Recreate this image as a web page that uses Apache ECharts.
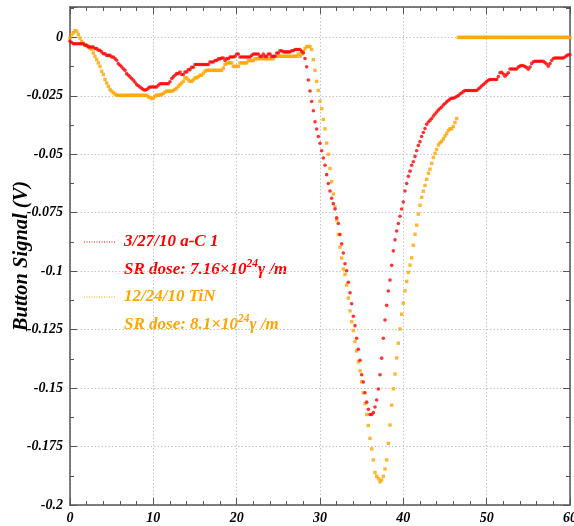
<!DOCTYPE html>
<html>
<head>
<meta charset="utf-8">
<script src="https://cdn.jsdelivr.net/npm/echarts@6/dist/echarts.min.js"></script>
<style>html,body{margin:0;padding:0;background:#fff;}#c{width:574px;height:526px;}</style>
</head>
<body>
<div id="c"></div>
<script>
// Sampling grid of the recordings (x in the chart's units)
const xStart = 0;
const xStep = 0.2;

// 3/27/10 a-C 1 (red)
const redValues = [
-0.0017,-0.0022,-0.0027,-0.0027,-0.0027,-0.0027,-0.0027,-0.0027,-0.0027,-0.0034,
-0.0034,-0.0041,-0.0041,-0.0041,-0.0041,-0.0048,-0.0048,-0.0055,-0.0055,-0.0062,
-0.0070,-0.0070,-0.0077,-0.0077,-0.0077,-0.0084,-0.0084,-0.0091,-0.0098,-0.0112,
-0.0119,-0.0126,-0.0134,-0.0141,-0.0155,-0.0162,-0.0169,-0.0176,-0.0183,-0.0192,
-0.0202,-0.0207,-0.0212,-0.0218,-0.0223,-0.0226,-0.0223,-0.0217,-0.0212,-0.0212,
-0.0212,-0.0212,-0.0212,-0.0205,-0.0198,-0.0198,-0.0198,-0.0198,-0.0198,-0.0198,
-0.0190,-0.0176,-0.0169,-0.0162,-0.0155,-0.0155,-0.0148,-0.0159,-0.0159,-0.0148,
-0.0148,-0.0138,-0.0138,-0.0128,-0.0128,-0.0116,-0.0116,-0.0116,-0.0116,-0.0116,
-0.0116,-0.0116,-0.0116,-0.0116,-0.0105,-0.0105,-0.0105,-0.0099,-0.0099,-0.0092,
-0.0092,-0.0088,-0.0088,-0.0099,-0.0091,-0.0091,-0.0084,-0.0084,-0.0084,-0.0081,
-0.0071,-0.0071,-0.0084,-0.0084,-0.0084,-0.0084,-0.0084,-0.0084,-0.0084,-0.0077,
-0.0071,-0.0071,-0.0071,-0.0071,-0.0081,-0.0081,-0.0071,-0.0081,-0.0081,-0.0071,
-0.0071,-0.0081,-0.0081,-0.0081,-0.0067,-0.0067,-0.0057,-0.0057,-0.0062,-0.0062,
-0.0062,-0.0062,-0.0062,-0.0057,-0.0057,-0.0052,-0.0052,-0.0052,-0.0052,-0.0060,
-0.0067,-0.0090,-0.0126,-0.0182,-0.0229,-0.0274,-0.0314,-0.0361,-0.0392,-0.0424,
-0.0453,-0.0485,-0.0516,-0.0547,-0.0587,-0.0625,-0.0657,-0.0688,-0.0711,-0.0734,
-0.0772,-0.0796,-0.0843,-0.0883,-0.0922,-0.0968,-0.0998,-0.1047,-0.1092,-0.1139,
-0.1193,-0.1233,-0.1287,-0.1334,-0.1381,-0.1443,-0.1474,-0.1520,-0.1560,-0.1591,
-0.1613,-0.1613,-0.1605,-0.1581,-0.1551,-0.1504,-0.1443,-0.1372,-0.1287,-0.1209,
-0.1146,-0.1085,-0.1038,-0.0975,-0.0913,-0.0866,-0.0828,-0.0796,-0.0765,-0.0734,
-0.0704,-0.0657,-0.0625,-0.0594,-0.0572,-0.0547,-0.0532,-0.0509,-0.0485,-0.0462,
-0.0446,-0.0424,-0.0407,-0.0390,-0.0372,-0.0362,-0.0355,-0.0347,-0.0336,-0.0328,
-0.0319,-0.0311,-0.0304,-0.0298,-0.0289,-0.0283,-0.0276,-0.0270,-0.0264,-0.0260,
-0.0260,-0.0257,-0.0253,-0.0249,-0.0242,-0.0238,-0.0232,-0.0227,-0.0227,-0.0227,
-0.0227,-0.0227,-0.0227,-0.0227,-0.0227,-0.0221,-0.0215,-0.0208,-0.0202,-0.0195,
-0.0189,-0.0183,-0.0180,-0.0180,-0.0180,-0.0180,-0.0180,-0.0168,-0.0151,-0.0149,
-0.0157,-0.0166,-0.0159,-0.0151,-0.0135,-0.0135,-0.0135,-0.0135,-0.0135,-0.0127,
-0.0123,-0.0120,-0.0121,-0.0125,-0.0129,-0.0136,-0.0127,-0.0112,-0.0104,-0.0102,
-0.0102,-0.0102,-0.0102,-0.0102,-0.0102,-0.0108,-0.0114,-0.0123,-0.0112,-0.0099,
-0.0090,-0.0088,-0.0088,-0.0088,-0.0088,-0.0088,-0.0088,-0.0084,-0.0078,-0.0074,
-0.0074
];

// 12/24/10 TiN (orange)
const orangeValues = [
-0.0003,0.0012,0.0020,0.0029,0.0026,0.0012,-0.0003,-0.0017,-0.0025,-0.0031,
-0.0035,-0.0038,-0.0046,-0.0052,-0.0067,-0.0081,-0.0095,-0.0109,-0.0124,-0.0145,
-0.0159,-0.0180,-0.0195,-0.0209,-0.0223,-0.0230,-0.0237,-0.0242,-0.0247,-0.0248,
-0.0248,-0.0248,-0.0248,-0.0248,-0.0248,-0.0248,-0.0248,-0.0248,-0.0248,-0.0248,
-0.0248,-0.0248,-0.0248,-0.0248,-0.0248,-0.0248,-0.0248,-0.0254,-0.0257,-0.0262,
-0.0259,-0.0252,-0.0247,-0.0247,-0.0247,-0.0244,-0.0240,-0.0234,-0.0230,-0.0230,
-0.0230,-0.0230,-0.0227,-0.0223,-0.0217,-0.0209,-0.0202,-0.0195,-0.0188,-0.0173,
-0.0173,-0.0182,-0.0188,-0.0188,-0.0182,-0.0173,-0.0173,-0.0168,-0.0162,-0.0162,
-0.0153,-0.0145,-0.0141,-0.0141,-0.0141,-0.0141,-0.0141,-0.0141,-0.0141,-0.0141,
-0.0141,-0.0141,-0.0131,-0.0116,-0.0112,-0.0109,-0.0109,-0.0109,-0.0124,-0.0124,
-0.0124,-0.0124,-0.0109,-0.0109,-0.0109,-0.0109,-0.0109,-0.0099,-0.0099,-0.0099,
-0.0099,-0.0091,-0.0091,-0.0091,-0.0091,-0.0091,-0.0091,-0.0091,-0.0091,-0.0091,
-0.0091,-0.0091,-0.0091,-0.0081,-0.0081,-0.0081,-0.0081,-0.0081,-0.0081,-0.0081,
-0.0081,-0.0081,-0.0081,-0.0081,-0.0081,-0.0081,-0.0081,-0.0071,-0.0081,-0.0072,
-0.0061,-0.0048,-0.0040,-0.0038,-0.0040,-0.0052,-0.0095,-0.0141,-0.0188,-0.0227,
-0.0273,-0.0305,-0.0351,-0.0391,-0.0452,-0.0500,-0.0561,-0.0617,-0.0670,-0.0725,
-0.0781,-0.0843,-0.0897,-0.0944,-0.0991,-0.1014,-0.1059,-0.1115,-0.1170,-0.1216,
-0.1254,-0.1301,-0.1341,-0.1388,-0.1426,-0.1473,-0.1520,-0.1567,-0.1613,-0.1660,
-0.1715,-0.1760,-0.1807,-0.1861,-0.1877,-0.1887,-0.1901,-0.1893,-0.1877,-0.1846,
-0.1807,-0.1736,-0.1658,-0.1573,-0.1503,-0.1440,-0.1371,-0.1308,-0.1247,-0.1184,
-0.1137,-0.1084,-0.1044,-0.1005,-0.0974,-0.0943,-0.0889,-0.0842,-0.0803,-0.0756,
-0.0718,-0.0684,-0.0658,-0.0633,-0.0607,-0.0581,-0.0564,-0.0539,-0.0513,-0.0496,
-0.0479,-0.0460,-0.0451,-0.0445,-0.0434,-0.0422,-0.0411,-0.0398,-0.0391,-0.0391,
-0.0381,-0.0364,-0.0347,0,0,0,0,0,0,0,
0,0,0,0,0,0,0,0,0,0,
0,0,0,0,0,0,0,0,0,0,
0,0,0,0,0,0,0,0,0,0,
0,0,0,0,0,0,0,0,0,0,
0,0,0,0,0,0,0,0,0,0,
0,0,0,0,0,0,0,0,0,0,
0
];

const legendRed = ['3/27/10 a-C 1', 'SR dose: 7.16\u00d710', '24', '\u03b3 /m'];
const legendOrange = ['12/24/10 TiN', 'SR dose: 8.1\u00d710', '24', '\u03b3 /m'];
const yAxisTitle = 'Button Signal (V)';
const xRange = [0, 60];
const yRange = [-0.2, 0.013];

function toPairs(vals) {
  return vals.map((v, i) => [+(xStart + i * xStep).toFixed(1), v]);
}

const SERIF = '"Liberation Serif", "DejaVu Serif", serif';
const RED = '#ff0000';
const ORANGE = '#ffa500';
const AX = '#555';
const GRIDC = '#c4c4c4';

const chart = echarts.init(document.getElementById('c'), null, {renderer: 'canvas'});

function baseAxisX(show) {
  return {
    type: 'value', min: xRange[0], max: xRange[1], interval: 10,
    position: show ? 'bottom' : 'top',
    axisLine: {show: true, onZero: false, lineStyle: {color: AX, width: 1.5}},
    axisTick: {show: true, inside: true, length: 7, lineStyle: {color: AX, width: 1}},
    minorTick: {show: true, splitNumber: 5, length: 4, lineStyle: {color: AX, width: 1}},
    axisLabel: {show: show, margin: 6, color: '#000', fontFamily: SERIF, fontWeight: 'bold', fontStyle: 'italic', fontSize: 14},
    splitLine: {show: show, lineStyle: {color: GRIDC, type: [1.5, 2], width: 1}}
  };
}
function baseAxisY(show) {
  return {
    type: 'value', min: yRange[0], max: yRange[1], interval: 0.025,
    position: show ? 'left' : 'right',
    axisLine: {show: true, onZero: false, lineStyle: {color: AX, width: 1.5}},
    axisTick: {show: true, inside: true, length: 7, lineStyle: {color: AX, width: 1}},
    minorTick: {show: true, splitNumber: 2, length: 4, lineStyle: {color: AX, width: 1}},
    axisLabel: {show: show, margin: 7, color: '#000', fontFamily: SERIF, fontWeight: 'bold', fontStyle: 'italic', fontSize: 14,
      showMaxLabel: false,
      formatter: v => (Math.abs(v - yRange[1]) < 1e-6 ? '' : String(+(+v).toFixed(3)))},
    splitLine: {show: show, lineStyle: {color: GRIDC, type: [1.5, 2], width: 1}}
  };
}

const yAxisLeft = baseAxisY(true);
yAxisLeft.name = yAxisTitle;
yAxisLeft.nameLocation = 'middle';
yAxisLeft.nameGap = 38;
yAxisLeft.nameMoveOverlap = false;
yAxisLeft.nameTextStyle = {color: '#000', fontFamily: SERIF, fontWeight: 'bold', fontStyle: 'italic', fontSize: 20.5};

const txt = (size) => ({fontFamily: SERIF, fontWeight: 'bold', fontStyle: 'italic', fontSize: size});

function legendBlock(lines, color, yTop) {
  return [
    {type: 'line', shape: {x1: 84, y1: yTop, x2: 115, y2: yTop},
     style: {stroke: color, lineWidth: 1, lineDash: [1, 1.5]}},
    {type: 'text', x: 124, y: yTop, style: Object.assign({text: lines[0], fill: color, verticalAlign: 'middle', align: 'left'}, txt(17))},
    {type: 'text', x: 124, y: yTop + 26, style: Object.assign({
      text: '{n|' + lines[1] + '}{s|' + lines[2] + '}{n|' + lines[3] + '}',
      fill: color, verticalAlign: 'middle', align: 'left',
      rich: {
        n: Object.assign({fill: color, verticalAlign: 'bottom'}, txt(17)),
        s: Object.assign({fill: color, verticalAlign: 'bottom', padding: [0, 0, 8, 0]}, txt(11.5))
      }}, txt(17))}
  ];
}

const option = {
  backgroundColor: '#fff',
  animation: false,
  grid: {left: 70, right: 4, top: 7, bottom: 21, containLabel: false, outerBoundsMode: 'none'},
  xAxis: [baseAxisX(true), baseAxisX(false)],
  yAxis: [yAxisLeft, baseAxisY(false)],
  series: [
    {type: 'scatter', name: '12/24/10 TiN', xAxisIndex: 0, yAxisIndex: 0,
     data: toPairs(orangeValues), symbol: 'rect', symbolSize: 3.4,
     itemStyle: {color: ORANGE}, silent: true, z: 2},
    {type: 'scatter', name: '3/27/10 a-C 1', xAxisIndex: 0, yAxisIndex: 0,
     data: toPairs(redValues), symbol: 'circle', symbolSize: 3.6,
     itemStyle: {color: RED}, silent: true, z: 3}
  ],
  graphic: [].concat(legendBlock(legendRed, RED, 242), legendBlock(legendOrange, ORANGE, 297))
};
chart.setOption(option);
</script>
</body>
</html>
